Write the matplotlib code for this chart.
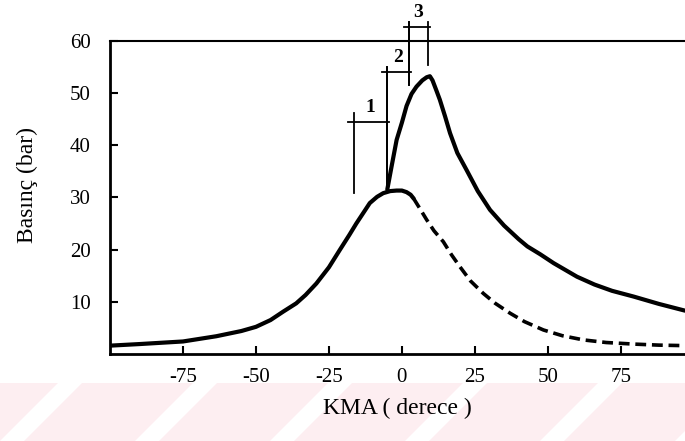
import matplotlib
matplotlib.use('Agg')
import matplotlib.pyplot as plt
from matplotlib.patches import Polygon, Rectangle

# shared compression curve (solid, both cases)
compX = [-100, -90, -75, -63.6, -55, -50, -45, -40.7, -36.2, -33, -29.3, -25, -21.3, -18, -15.6,
         -13, -11, -8.5, -6.4, -4, -1.8, 0, 1.6, 3, 4]
compY = [1.6, 1.9, 2.4, 3.4, 4.4, 5.2, 6.5, 8.1, 9.7, 11.3, 13.5, 16.6, 19.9, 22.8, 25.0,
         27.2, 28.9, 30.1, 30.8, 31.2, 31.3, 31.3, 31.0, 30.5, 29.8]

# motoring (no combustion) expansion, dashed
motX = [4, 6, 8.5, 11, 14.2, 17, 19.9, 23.5, 27.9, 32, 37.1, 42, 48.5, 55, 62.2, 70, 79.4, 88, 97]
motY = [29.8, 28.0, 25.7, 23.6, 21.5, 19.0, 16.7, 14.0, 11.6, 9.7, 7.8, 6.2, 4.6, 3.5, 2.7, 2.2, 1.9, 1.7, 1.6]

# firing curve after ignition
fireX = [-5, -3.5, -1.8, 0, 1.6, 3.3, 5, 7, 8.5, 9.6, 10.5, 11.8, 13, 14.8, 16.5, 19, 22.2, 26, 30.2,
         35, 40, 43, 47.4, 52, 60, 66, 72, 79.4, 88, 97]
fireY = [31.5, 36.0, 41.0, 44.3, 47.5, 49.8, 51.2, 52.4, 53.0, 53.2, 52.4, 50.5, 48.7, 45.5, 42.3, 38.5,
         35.2, 31.2, 27.6, 24.6, 22.0, 20.6, 19.1, 17.4, 14.8, 13.3, 12.1, 11.0, 9.6, 8.3]

# phase brackets: (label, x left, x right, bar height, left line bottom, left line top, right line bottom, right line top)
brackets = [
    ('1', -16.5, -5.1, 44.4, 30.8, 46.2, 31.4, 55.0),
    ('2', -5.1, 2.4, 54.0, 31.4, 55.0, 51.5, 63.6),
    ('3', 2.4, 8.9, 62.6, 51.5, 63.6, 55.4, 63.6),
]

xticks = [-75, -50, -25, 0, 25, 50, 75]
yticks = [10, 20, 30, 40, 50, 60]

plt.rcParams['font.family'] = ['Liberation Serif', 'DejaVu Serif']
plt.rcParams['axes.unicode_minus'] = False

fig = plt.figure(figsize=(6.85, 4.41), dpi=100)

# faint watermark band at the bottom
band_h = 58 / 441.
fig.patches.append(Rectangle((0, 0), 1, band_h, transform=fig.transFigure,
                             facecolor='#fdeef1', edgecolor='none', zorder=0))
for k in range(-1, 7):
    x0 = k * 135 / 685.
    w = 24 / 685.
    dx = 58 / 685.
    fig.patches.append(Polygon([(x0, 0), (x0 + w, 0), (x0 + w + dx, band_h), (x0 + dx, band_h)],
                               closed=True, transform=fig.transFigure,
                               facecolor='white', edgecolor='none', zorder=0))

ax = fig.add_axes([110/685., 1 - 354/441., 1 - 110/685., (354 - 40.7)/441.])
ax.set_zorder(2)
ax.patch.set_alpha(0)

ax.plot(compX, compY, color='black', lw=3, solid_capstyle='round', solid_joinstyle='round')
ax.plot(motX, motY, color='black', lw=2.6, linestyle=(0, (3, 1.6)))
ax.plot(fireX, fireY, color='black', lw=3, solid_capstyle='round', solid_joinstyle='round')

for lab, xl, xr, yb, l0, l1, r0, r1 in brackets:
    ax.plot([xl - 1.8, xr + 0.6], [yb, yb], color='black', lw=1.3, clip_on=False)
    ax.plot([xl, xl], [l0, l1], color='black', lw=1.3, clip_on=False)
    ax.plot([xr, xr], [r0, r1], color='black', lw=1.3, clip_on=False)
    ax.text((xl + xr) / 2, yb + 1.2, lab, ha='center', va='bottom', fontsize=14,
            fontweight='bold', clip_on=False)

ax.set_xlim(-100, 97)
ax.set_ylim(0, 60)
ax.set_xticks(xticks)
ax.set_yticks(yticks)
ax.tick_params(direction='in', length=6, width=1.5, labelsize=15)
ax.tick_params(axis='x', pad=10)
ax.tick_params(axis='y', pad=14)

ax.spines['right'].set_visible(False)
ax.spines['left'].set_linewidth(2)
ax.spines['bottom'].set_linewidth(2)
ax.spines['top'].set_linewidth(1.5)

ax.set_xlabel('KMA ( derece )', fontsize=17, labelpad=8)
ax.set_ylabel('Basınç (bar)', fontsize=17)
ax.yaxis.set_label_coords(-0.125, 0.54)

fig.savefig('out.png', dpi=100)
